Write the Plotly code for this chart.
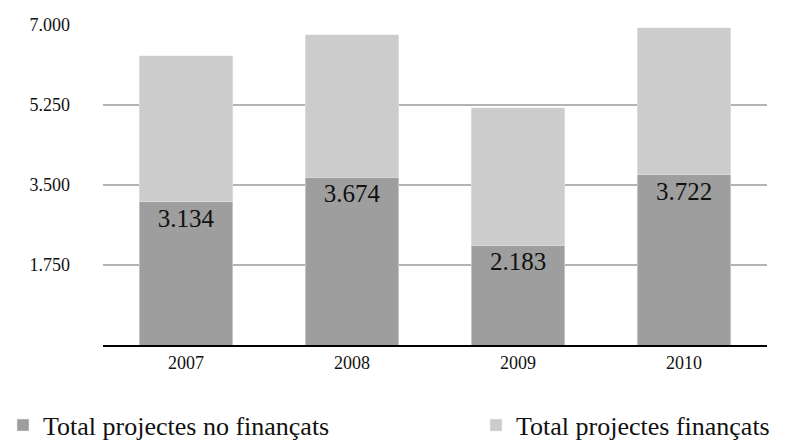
import plotly.graph_objects as go

years = ["2007", "2008", "2009", "2010"]
no_financats = [3134, 3674, 2183, 3722]
financats = [3190, 3109, 3003, 3220]
y_ticks = [1750, 3500, 5250, 7000]
name_no = "Total projectes no finançats"
name_fin = "Total projectes finançats"

FONT = "Liberation Serif"
DARK = "#9d9e9d"
LIGHT = "#cbcccb"


def fmt(v):
    return f"{v:,}".replace(",", ".")


fig = go.Figure()
fig.add_trace(go.Bar(x=years, y=no_financats, name=name_no,
                     marker=dict(color=DARK), legend="legend", showlegend=True,
                     text=[fmt(v) for v in no_financats],
                     textposition="inside", insidetextanchor="end",
                     textangle=0, constraintext="none",
                     textfont=dict(family=FONT, size=25, color="#111111")))
fig.add_trace(go.Bar(x=years, y=financats, name=name_fin,
                     marker=dict(color=LIGHT), textposition="none",
                     legend="legend2", showlegend=True))

legend_common = dict(orientation="h", xref="container", yref="container",
                     xanchor="left", yanchor="middle", y=0.036,
                     font=dict(family=FONT, size=26, color="#111111"),
                     bgcolor="rgba(0,0,0,0)")

fig.update_layout(
    width=785, height=441,
    showlegend=True,
    barmode="stack", bargap=0.434,
    paper_bgcolor="white", plot_bgcolor="white",
    margin=dict(l=103, r=18, t=25, b=96),
    font=dict(family=FONT, color="#111111"),
    xaxis=dict(type="category", showline=True, linecolor="black", linewidth=2,
               showgrid=False, ticks="", automargin=False,
               tickfont=dict(size=18)),
    yaxis=dict(range=[0, 7000], tickvals=y_ticks,
               ticktext=[fmt(t) for t in y_ticks],
               showgrid=True, gridcolor="#b3b3b3", gridwidth=2,
               zeroline=False, showline=False, ticks="", automargin=False,
               ticklabelstandoff=32, tickfont=dict(size=18)),
    legend=dict(x=3 / 785, **legend_common),
    legend2=dict(x=476 / 785, **legend_common),
)

fig.write_html("out.html")
